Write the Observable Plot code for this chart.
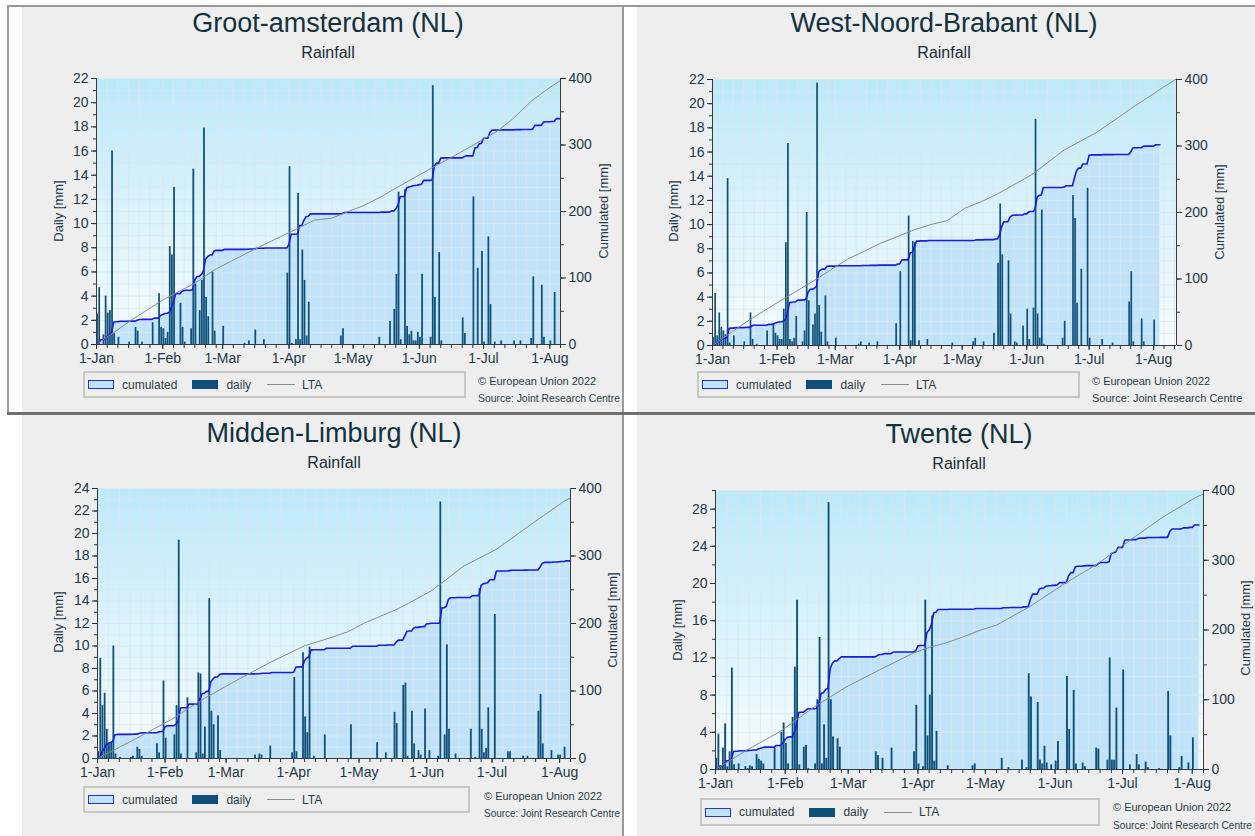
<!DOCTYPE html>
<html><head><meta charset="utf-8">
<script src="https://cdn.jsdelivr.net/npm/d3@7"></script>
<script src="https://cdn.jsdelivr.net/npm/@observablehq/plot@0.6"></script>
<style>
body{margin:0;background:#fff;font-family:"Liberation Sans",Arial,sans-serif;}
#root{position:relative;width:1255px;height:836px;overflow:hidden;background:#fff;}
.panel{position:absolute;background:#eeeeee;overflow:hidden;}
.title{position:absolute;transform:translateX(-50%);white-space:nowrap;font-size:27px;line-height:1;color:#12323e;}
.sub{position:absolute;transform:translateX(-50%);white-space:nowrap;font-size:16px;line-height:1;color:#1c2c34;}
.vlab{position:absolute;white-space:nowrap;font-size:13px;line-height:1;color:#1d3846;transform:translate(-50%,-50%) rotate(-90deg);}
.legend{position:absolute;box-sizing:border-box;border:2px solid #c6c6c6;display:flex;align-items:center;padding-left:3px;font-size:12px;color:#2b3b45;}
.sw{display:inline-block;width:26px;height:9px;box-sizing:border-box;margin-right:8px;}
.cum{background:#c0e3fa;border:1.5px solid #2a32e0;}
.daily{background:#0d4f78;margin-left:15px;}
.ln{display:inline-block;width:28px;height:0;border-top:1px solid #8a8a8a;margin-left:16px;margin-right:7px;}
.copy{position:absolute;white-space:nowrap;font-size:11px;line-height:1;color:#2b3b45;transform-origin:0 50%;}
.bd{position:absolute;}
svg{position:absolute;}
</style>
</head><body><div id="root"></div>
<script>
// ---- tick labels ----
const monthStarts = [0, 31, 59, 90, 120, 151, 181, 212];
const monthLabels = ["1-Jan","1-Feb","1-Mar","1-Apr","1-May","1-Jun","1-Jul","1-Aug"];
const panelTitles = ["Groot-amsterdam (NL)", "West-Noord-Brabant (NL)", "Midden-Limburg (NL)", "Twente (NL)"];
const subtitle = "Rainfall";
const legendLabels = ["cumulated", "daily", "LTA"];
const copyLines = ["\u00A9 European Union 2022", "Source: Joint Research Centre"];

// ---- daily rainfall [day index from 1-Jan, mm] ----
const grootDaily = [[0,2.5],[1,4.7],[3,0.8],[4,4.0],[5,2.6],[6,2.8],[7,16.0],[8,0.9],[10,0.6],[15,0.2],[18,1.4],[19,1.1],[21,0.2],[26,1.8],[29,4.2],[30,1.4],[31,1.3],[32,0.5],[33,1.0],[34,8.1],[35,7.4],[36,13.0],[39,3.4],[40,1.4],[41,0.2],[44,1.3],[45,14.5],[46,5.0],[48,2.8],[49,5.3],[50,17.9],[51,3.9],[52,2.3],[54,6.0],[55,1.1],[59,1.5],[69,0.1],[71,0.3],[74,1.2],[78,0.4],[89,5.9],[90,14.7],[91,0.1],[93,0.4],[94,12.5],[95,0.4],[96,7.8],[97,5.3],[98,0.7],[99,3.5],[114,0.7],[115,1.3],[132,0.6],[137,1.9],[139,2.9],[140,5.8],[141,12.6],[142,0.4],[144,12.8],[145,1.5],[146,0.8],[147,1.1],[148,0.3],[149,0.3],[150,1.0],[151,0.6],[152,5.8],[156,0.6],[157,21.4],[158,3.9],[160,7.6],[161,0.3],[171,2.2],[172,0.9],[176,12.2],[178,6.3],[180,7.7],[181,0.2],[183,8.9],[184,3.3],[186,0.2],[189,0.3],[195,0.3],[198,0.3],[203,0.5],[204,5.6],[208,4.9],[209,0.6],[212,0.3],[214,4.3]];
const westDaily = [[0,0.7],[1,4.3],[2,0.8],[3,2.7],[4,1.5],[5,1.2],[6,0.9],[7,13.8],[8,0.2],[10,0.8],[15,0.3],[18,2.7],[19,0.5],[21,0.1],[26,1.2],[29,1.8],[30,1.0],[31,0.8],[32,0.5],[33,0.5],[34,3.0],[35,8.5],[36,16.7],[37,0.5],[38,0.3],[39,0.6],[40,2.4],[43,0.3],[44,1.2],[45,11.0],[46,3.7],[48,1.7],[49,2.6],[50,21.7],[51,3.3],[52,1.1],[54,4.1],[55,0.3],[59,0.6],[70,0.1],[71,0.3],[75,0.2],[79,0.3],[88,1.8],[90,6.1],[94,10.7],[95,0.4],[96,8.6],[97,8.5],[99,0.4],[103,0.5],[115,0.2],[125,0.3],[126,0.6],[130,0.3],[135,1.0],[137,6.8],[138,11.7],[139,7.5],[142,7.0],[143,2.6],[145,0.3],[146,0.2],[149,1.6],[151,3.0],[152,0.5],[154,3.1],[155,18.7],[156,2.6],[157,0.6],[158,11.2],[159,0.1],[168,0.6],[169,2.0],[173,12.4],[174,10.5],[175,3.5],[177,6.3],[180,13.0],[181,0.6],[187,0.5],[192,0.2],[200,3.6],[201,6.1],[202,0.3],[206,2.2],[207,0.3],[212,2.1]];
const middenDaily = [[0,0.6],[1,8.9],[2,4.7],[3,5.8],[4,2.6],[5,1.3],[6,1.4],[7,10.0],[8,0.4],[10,0.1],[15,0.1],[16,0.2],[18,1.0],[19,0.8],[20,0.2],[27,1.3],[28,0.5],[30,6.9],[31,1.8],[35,2.1],[36,4.7],[37,19.4],[38,0.4],[41,5.4],[45,0.5],[46,7.6],[47,7.5],[48,0.4],[49,2.8],[51,14.2],[52,4.2],[53,3.0],[55,3.8],[56,0.7],[72,0.3],[74,0.4],[75,0.3],[79,1.1],[89,0.5],[90,7.2],[91,0.6],[94,9.4],[95,3.7],[96,2.3],[97,9.9],[99,0.2],[104,2.1],[116,3.0],[128,1.4],[132,0.5],[136,4.1],[137,3.1],[140,6.5],[141,6.7],[142,0.2],[144,4.2],[145,1.3],[147,0.7],[148,0.3],[150,4.4],[152,0.7],[156,0.2],[157,22.8],[159,2.1],[160,10.1],[161,2.6],[164,0.4],[171,2.6],[173,0.1],[175,15.1],[176,2.6],[177,0.5],[178,0.9],[179,4.5],[182,12.8],[188,0.6],[189,0.6],[195,0.2],[197,0.2],[202,4.2],[203,5.7],[204,1.3],[208,0.7],[211,0.3],[212,0.3],[214,1.0]];
const twenteDaily = [[0,1.2],[1,3.8],[2,0.4],[3,2.3],[4,4.9],[5,0.3],[6,1.9],[7,10.9],[8,0.5],[10,0.6],[13,0.3],[14,0.1],[15,0.4],[16,0.3],[18,1.6],[19,1.1],[20,0.9],[21,0.6],[26,2.3],[29,4.0],[30,5.0],[31,2.8],[32,0.6],[34,5.6],[35,11.0],[36,18.2],[37,0.5],[39,2.4],[40,2.6],[41,0.1],[44,0.6],[45,7.5],[46,14.2],[47,0.6],[48,4.8],[49,1.2],[50,28.7],[51,7.5],[52,3.5],[54,3.3],[55,2.4],[71,1.9],[72,1.5],[74,1.2],[78,2.3],[88,1.9],[89,6.9],[90,0.6],[92,0.3],[93,18.2],[94,3.6],[95,8.0],[96,16.5],[97,0.9],[98,4.1],[103,0.4],[114,0.4],[115,0.6],[127,1.2],[130,0.2],[136,1.0],[138,0.2],[139,10.3],[140,7.8],[143,7.2],[144,1.0],[145,0.6],[146,2.5],[147,0.7],[149,0.5],[151,0.9],[152,3.0],[156,10.0],[157,4.3],[159,8.5],[160,0.6],[163,0.7],[164,0.3],[169,2.3],[170,2.2],[174,1.0],[175,12.0],[176,1.0],[177,1.0],[178,6.6],[181,10.7],[184,0.5],[187,1.6],[188,0.5],[191,0.8],[192,0.2],[197,0.1],[201,8.4],[202,3.6],[206,0.2],[207,1.4],[210,0.7],[212,3.4]];

// ---- long-term average cumulated [day index, mm] ----
const grootLTA = [[0,0],[8,18],[16,36],[31,67],[46,92],[55,112],[70,137],[86,162],[102,187],[110,190],[117,199],[125,209],[133,222],[141,237],[156,264],[172,292],[188,322],[195,340],[203,365],[210,382],[217,397]];
const westLTA = [[0,0],[17,37],[33,68],[49,98],[65,130],[81,154],[97,174],[105,182],[113,188],[121,206],[129,216],[137,228],[153,256],[169,294],[185,321],[201,356],[217,389],[223,401]];
const middenLTA = [[0,0],[18,30],[34,58],[49,89],[64,116],[79,142],[95,167],[107,179],[115,188],[122,200],[138,222],[153,248],[168,285],[183,310],[199,347],[214,381],[217,386]];
const twenteLTA = [[0,0],[14,28],[29,55],[44,90],[58,118],[73,143],[88,167],[96,176],[103,182],[110,190],[118,200],[125,207],[140,234],[155,266],[170,295],[184,328],[199,362],[214,391],[217,395]];

// ---- layout (page pixel coordinates) ----
const panels = [
  {title: panelTitles[0], daily: grootDaily, lta: grootLTA, lastDay: 216, xEnd: 217, yTop: 22, yLabelStep: 2, yMinorStep: 1, yGridStep: 1,
   box: [22,7,601,405], svgTop: 55, svg: [601,310,16,63,28,74], cx: 328, titleBase: 33, subBase: 59, dailyLab: [58,211], cumLab: [603,211], legend: [83,371,383,27], copy: [478,382,399]},
  {title: panelTitles[1], daily: westDaily, lta: westLTA, lastDay: 214, xEnd: 223, yTop: 22, yLabelStep: 2, yMinorStep: 1, yGridStep: 1,
   box: [637,7,618,405], svgTop: 55, svg: [618,311,17,79,28,75], cx: 944, titleBase: 33, subBase: 59, dailyLab: [673,211], cumLab: [1219,212], legend: [697,371,383,27], copy: [1092,382,399]},
  {title: panelTitles[2], daily: middenDaily, lta: middenLTA, lastDay: 216, xEnd: 217, yTop: 24, yLabelStep: 2, yMinorStep: 1, yGridStep: 1,
   box: [22,415,601,421], svgTop: 55, svg: [601,316,18,53,28,75], cx: 334, titleBase: 443, subBase: 469, dailyLab: [58,622], cumLab: [612,620], legend: [83,786,387,27], copy: [484,797,814]},
  {title: panelTitles[3], daily: twenteDaily, lta: twenteLTA, lastDay: 214, xEnd: 217, yTop: 30, yLabelStep: 4, yMinorStep: 2, yGridStep: 2,
   box: [637,415,618,421], svgTop: 55, svg: [618,327,20,52,28,78], cx: 959, titleBase: 444, subBase: 470, dailyLab: [677,630], cumLab: [1245,628], legend: [700,798,400,28], copy: [1113,808,826]}
];

const root = document.getElementById("root");
function addDiv(parent, cls, css, text) {
  const d = document.createElement("div");
  d.className = cls; Object.assign(d.style, css);
  if (text != null) d.textContent = text;
  parent.appendChild(d); return d;
}

function makeChart(p, gid) {
  const [w, h, mt, mr, mb, ml] = p.svg;
  const k = p.yTop / 400;
  const rain = new Map(p.daily);
  const days = d3.range(p.lastDay + 1).map(i => ({day: i, v: rain.get(i) || 0}));
  const cum = d3.cumsum(days, d => d.v);
  const cumPts = [{x: 0, c: 0}].concat(days.map((d, i) => ({x: d.day + 1, c: cum[i]})));
  const minorX = monthStarts.flatMap(m => [0,5,10,15,20,25].map(o => m + o)).filter(d => d <= p.xEnd);
  const yMinor = d3.range(0, p.yTop + 0.01, p.yMinorStep);
  const yLab = d3.range(0, p.yTop + 0.01, p.yLabelStep).filter(v => p.yTop % p.yLabelStep === 0 || v < p.yTop);
  const gridYs = d3.range(0, p.yTop + 0.01, p.yGridStep);
  const gridStyle = {stroke: "#dbe7ed", strokeOpacity: 0.75};
  const svg = Plot.plot({
    width: w, height: h, marginTop: mt, marginRight: mr, marginBottom: mb, marginLeft: ml,
    x: {domain: [0, p.xEnd]},
    y: {domain: [0, p.yTop]},
    style: {fontFamily: "'Liberation Sans', Arial, sans-serif", fontSize: "14px", color: "#1d3846", background: "transparent", overflow: "visible"},
    marks: [
      Plot.frame({fill: `url(#${gid})`, stroke: "none"}),
      Plot.areaY(cumPts, {x: "x", y: d => d.c * k, fill: "#c0e3fa"}),
      Plot.gridX(minorX, gridStyle),
      Plot.gridY(gridYs, gridStyle),
      Plot.rectY(days.filter(d => d.v > 0), {x1: "day", x2: d => d.day + 1, y: "v", fill: "#0d4f78", insetLeft: 0.2, insetRight: 0.2}),
      Plot.line(cumPts, {x: "x", y: d => d.c * k, stroke: "#1a1ae6", strokeWidth: 1.6}),
      Plot.line(p.lta, {x: d => d[0], y: d => d[1] * k, stroke: "#8a8a8a", strokeWidth: 1}),
      Plot.ruleX([0], {stroke: "#3a3a3a"}),
      Plot.ruleX([p.xEnd], {stroke: "#3a3a3a"}),
      Plot.ruleY([0], {stroke: "#3a3a3a"}),
      Plot.axisY(yMinor, {anchor: "left", tickSize: 3, tickFormat: () => "", label: null}),
      Plot.axisY(yLab, {anchor: "left", tickSize: 5, tickPadding: 3, label: null}),
      Plot.axisY(d3.range(0, 401, 50).map(v => v * k), {anchor: "right", tickSize: 3, tickFormat: () => "", label: null}),
      Plot.axisY(d3.range(0, 401, 100).map(v => v * k), {anchor: "right", tickSize: 5, tickPadding: 3, tickFormat: d => String(Math.round(d / k)), label: null}),
      Plot.axisX(minorX, {tickSize: 4, tickFormat: () => "", label: null}),
      Plot.axisX(monthStarts, {tickSize: 5, tickPadding: 4, fontSize: 14, tickFormat: d => monthLabels[monthStarts.indexOf(d)], label: null})
    ]
  });
  const defs = d3.select(svg).insert("defs", ":first-child");
  const g = defs.append("linearGradient").attr("id", gid).attr("x1", 0).attr("y1", 0).attr("x2", 0).attr("y2", 1);
  g.append("stop").attr("offset", "0%").attr("stop-color", "#bde9f9");
  g.append("stop").attr("offset", "100%").attr("stop-color", "#f7fcfe");
  return svg;
}

panels.forEach((p, i) => {
  const [bx, by, bw, bh] = p.box;
  const pan = addDiv(root, "panel", {left: bx + "px", top: by + "px", width: bw + "px", height: bh + "px"});
  const svg = makeChart(p, "bg" + i);
  svg.style.left = "0px"; svg.style.top = p.svgTop + "px";
  pan.appendChild(svg);
  addDiv(pan, "title", {left: (p.cx - bx) + "px", top: (p.titleBase - 0.8465 * 27 - by) + "px"}, p.title);
  addDiv(pan, "sub", {left: (p.cx - bx) + "px", top: (p.subBase - 0.8465 * 16 - by) + "px"}, subtitle);
  addDiv(pan, "vlab", {left: (p.dailyLab[0] - bx) + "px", top: (p.dailyLab[1] - by) + "px"}, "Daily [mm]");
  addDiv(pan, "vlab", {left: (p.cumLab[0] - bx) + "px", top: (p.cumLab[1] - by) + "px"}, "Cumulated [mm]");
  const [lx, ly, lw, lh] = p.legend;
  const lg = addDiv(pan, "legend", {left: (lx - bx) + "px", top: (ly - by) + "px", width: lw + "px", height: lh + "px"});
  lg.innerHTML = `<span class="sw cum"></span><span>${legendLabels[0]}</span><span class="sw daily"></span><span>${legendLabels[1]}</span><span class="ln"></span><span>${legendLabels[2]}</span>`;
  [p.copy[1], p.copy[2]].forEach((cy, j) => {
    const c = addDiv(pan, "copy", {left: (p.copy[0] - bx) + "px", top: (cy - 6.5 - by) + "px"}, copyLines[j]);
    const avail = bw - (p.copy[0] - bx) - 3;
    const wdt = c.getBoundingClientRect().width;
    if (wdt > avail) c.style.transform = `scaleX(${avail / wdt})`;
  });
});

// frame lines of the collage
addDiv(root, "bd", {left: "7px", top: "6px", width: "2px", height: "407px", background: "#9a9a9a"});
addDiv(root, "bd", {left: "7px", top: "5px", width: "1248px", height: "2px", background: "#9a9a9a"});
addDiv(root, "bd", {left: "622px", top: "6px", width: "2px", height: "830px", background: "#9a9a9a"});
addDiv(root, "bd", {left: "7px", top: "412px", width: "1248px", height: "3px", background: "#6f6f6f"});
</script>
</body></html>
